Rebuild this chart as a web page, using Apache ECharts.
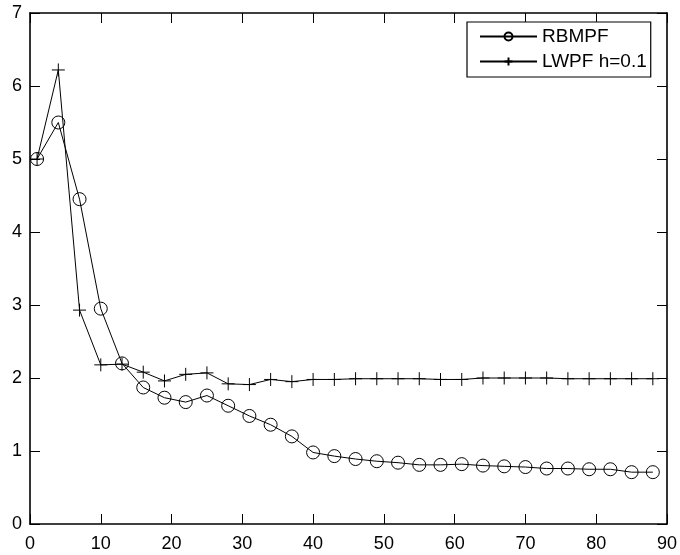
<!DOCTYPE html>
<html>
<head>
<meta charset="utf-8">
<script src="https://cdn.jsdelivr.net/npm/echarts@6/dist/echarts.min.js"></script>
<style>html,body{margin:0;padding:0;background:#fff}#c{width:680px;height:555px}</style>
</head>
<body>
<div id="c"></div>
<script>
const xValues = [1,4,7,10,13,16,19,22,25,28,31,34,37,40,43,46,49,52,55,58,61,64,67,70,73,76,79,82,85,88];
const rbmpf = [5.0,5.5,4.45,2.95,2.2,1.87,1.73,1.67,1.76,1.62,1.48,1.36,1.20,0.98,0.93,0.89,0.86,0.84,0.81,0.81,0.82,0.80,0.79,0.78,0.76,0.76,0.75,0.75,0.71,0.71];
const lwpf = [5.0,6.22,2.93,2.18,2.19,2.08,1.96,2.05,2.07,1.92,1.91,1.98,1.95,1.98,1.98,1.99,1.99,1.99,1.99,1.98,1.98,2.0,2.0,2.0,2.0,1.99,1.99,1.99,1.99,1.99];
const seriesNames = ['RBMPF', 'LWPF h=0.1'];
const xTicks = [0,10,20,30,40,50,60,70,80,90];
const yTicks = [0,1,2,3,4,5,6,7];

const font = 'Liberation Sans, Arial, sans-serif';
const pair = (xs, ys) => xs.map((x, i) => [x, ys[i]]);
const plus = 'path://M5,0L5,10M0,5L10,5';

const chart = echarts.init(document.getElementById('c'), null, {renderer: 'canvas'});
function axis(extra, onZero) {
  return Object.assign({
    type: 'value',
    axisLine: {show: true, onZero: onZero, lineStyle: {color: '#000', width: 1.6}},
    axisTick: {show: true, inside: true, length: 10, lineStyle: {color: '#000', width: 1}},
    splitLine: {show: false}
  }, extra);
}
chart.setOption({
  animation: false,
  backgroundColor: '#fff',
  grid: {left: 30, right: 13, top: 13, bottom: 31},
  xAxis: [
    axis({min: xTicks[0], max: xTicks[xTicks.length-1], interval: 10, position: 'bottom',
      axisLabel: {color: '#000', fontSize: 18, fontFamily: font, margin: 11}}, true),
    axis({min: xTicks[0], max: xTicks[xTicks.length-1], interval: 10, position: 'top',
      axisLabel: {show: false}}, false)
  ],
  yAxis: [
    axis({min: yTicks[0], max: yTicks[yTicks.length-1], interval: 1, position: 'left',
      axisLabel: {color: '#000', fontSize: 18, fontFamily: font, margin: 8}}, true),
    axis({min: yTicks[0], max: yTicks[yTicks.length-1], interval: 1, position: 'right',
      axisLabel: {show: false}}, false)
  ],
  legend: {
    orient: 'vertical',
    left: 467, top: 22,
    padding: [5, 4, 6, 12],
    itemWidth: 57, itemHeight: 10, itemGap: 6,
    borderColor: '#000', borderWidth: 1.2, backgroundColor: '#fff',
    textStyle: {color: '#000', fontSize: 19, fontFamily: font},
    data: seriesNames
  },
  series: [
    {
      name: seriesNames[0], type: 'line', data: pair(xValues, rbmpf),
      symbol: 'circle', symbolSize: 13, showAllSymbol: true,
      lineStyle: {color: '#000', width: 1},
      itemStyle: {color: 'rgba(0,0,0,0)', borderColor: '#000', borderWidth: 1}
    },
    {
      name: seriesNames[1], type: 'line', data: pair(xValues, lwpf),
      symbol: plus, symbolSize: 13, showAllSymbol: true,
      lineStyle: {color: '#000', width: 1},
      itemStyle: {color: 'rgba(0,0,0,0)', borderColor: '#000', borderWidth: 1}
    }
  ]
});
</script>
</body>
</html>
